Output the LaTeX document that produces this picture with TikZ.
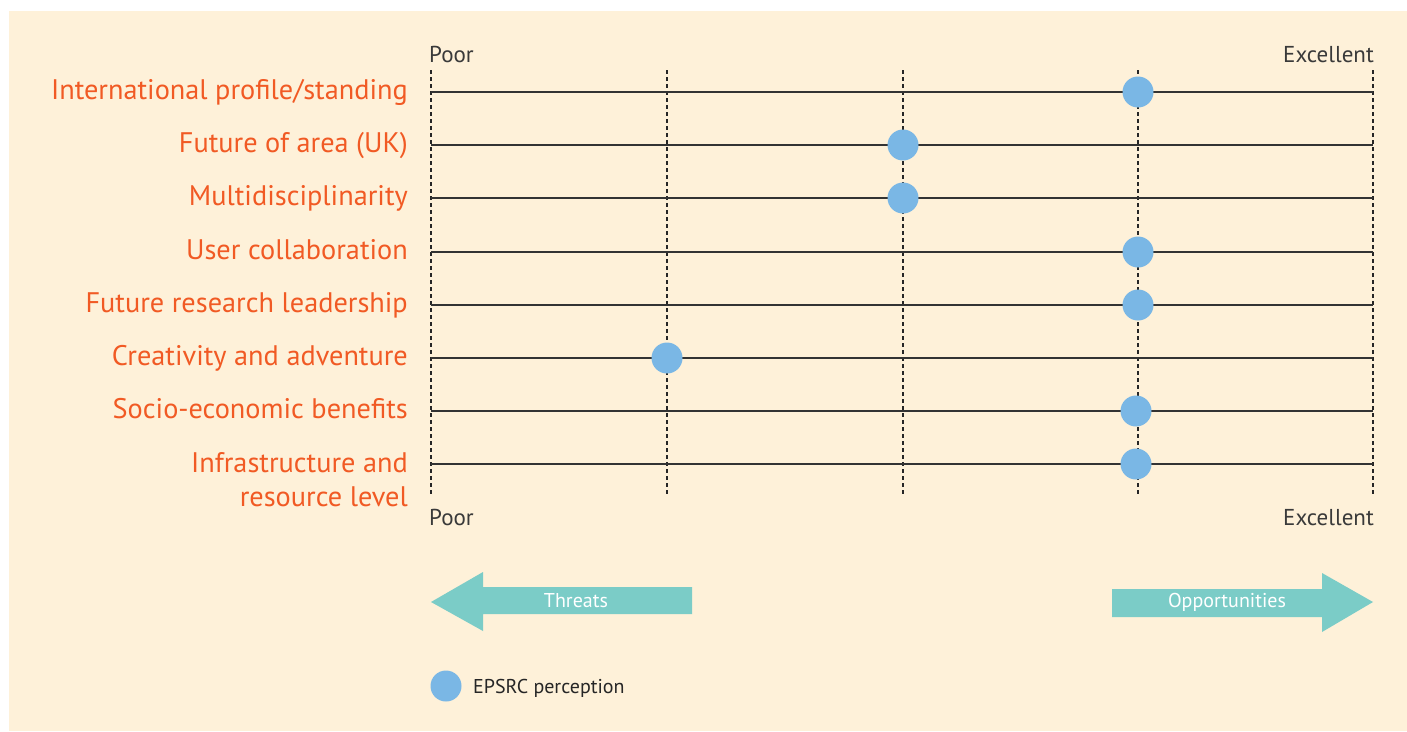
\documentclass[tikz,border=0pt]{standalone}
\usepackage{fontspec}
\setmainfont{PT Sans}
\definecolor{bg}{HTML}{FEF1D9}
\definecolor{lab}{HTML}{F15A24}
\definecolor{dot}{HTML}{7AB7E5}
\definecolor{teal}{HTML}{7BCCC7}
\definecolor{txt}{HTML}{3A3A3A}
\begin{document}
\begin{tikzpicture}[x=1pt,y=-1pt,
  lbl/.style={anchor=base east,inner sep=0pt,text=lab,font=\fontsize{28.3}{34}\selectfont},
  scaleword/.style={inner sep=0pt,text=txt,font=\fontsize{23}{28}\selectfont},
  grid/.style={draw=black!85,line width=1.2pt,dash pattern=on 4pt off 3pt},
  row/.style={draw=black!80,line width=1.3pt},
  pt/.style={circle,fill=dot,minimum size=31pt,inner sep=0pt},
  arr/.style={fill=teal,draw=none},
  arrtxt/.style={text=white,inner sep=0pt,font=\fontsize{20}{22}\selectfont}]
\useasboundingbox (0,0) rectangle (1407,731);
\fill[white] (0,0) rectangle (1407,731);
\fill[bg] (9,11) rectangle (1407,731);
% vertical dashed grid
\foreach \x [count=\i] in {431,667,903,1138,1373}{
  \coordinate (vt\i) at (\x,70);
  \coordinate (vb\i) at (\x,495);
  \draw[grid] (vt\i) -- (vb\i);
}
% rows
\foreach \y [count=\i] in {92,145,198,252,305,358,411,464}{
  \coordinate (rl\i) at (431,\y);
  \coordinate (rr\i) at (1373,\y);
  \draw[row] (rl\i) -- (rr\i);
}
% labels
\node[lbl] (l1) at (408,99) {International profile/standing};
\node[lbl] (l2) at (408,152) {Future of area (UK)};
\node[lbl] (l3) at (408,205) {Multidisciplinarity};
\node[lbl] (l4) at (408,259) {User collaboration};
\node[lbl] (l5) at (408,312) {Future research leadership};
\node[lbl] (l6) at (408,365) {Creativity and adventure};
\node[lbl] (l7) at (408,418) {Socio-economic benefits};
\node[lbl] (l8) at (408,472) {Infrastructure and};
\node[lbl] (l8b) at (408,506) {resource level};
% scale words
\node[scaleword,anchor=base west] (pt) at (429,62) {Poor};
\node[scaleword,anchor=base east] (et) at (1374,62) {Excellent};
\node[scaleword,anchor=base west] (pb) at (429,525) {Poor};
\node[scaleword,anchor=base east] (eb) at (1374,525) {Excellent};
% dots
\node[pt] (d1) at (1138,92) {};
\node[pt] (d2) at (903,145) {};
\node[pt] (d3) at (903,198) {};
\node[pt] (d4) at (1138,252) {};
\node[pt] (d5) at (1138,305) {};
\node[pt] (d6) at (667,358) {};
\node[pt] (d7) at (1136,411) {};
\node[pt] (d8) at (1136,464) {};
% arrows
\fill[arr] (431,602) -- (483,572) -- (483,587) -- (692,587) -- (692,614) -- (483,614) -- (483,631) -- cycle;
\node[arrtxt] (th) at (576,601) {Threats};
\fill[arr] (1112,589) -- (1322,589) -- (1322,573) -- (1373,602) -- (1322,632) -- (1322,617) -- (1112,617) -- cycle;
\node[arrtxt] (op) at (1227,602) {Opportunities};
% legend
\node[pt] (lg) at (446,686) {};
\node[anchor=west,inner sep=0pt,text=black!85,font=\fontsize{20}{24}\selectfont] (lgt) at (473,688) {EPSRC perception};
\end{tikzpicture}
\end{document}
